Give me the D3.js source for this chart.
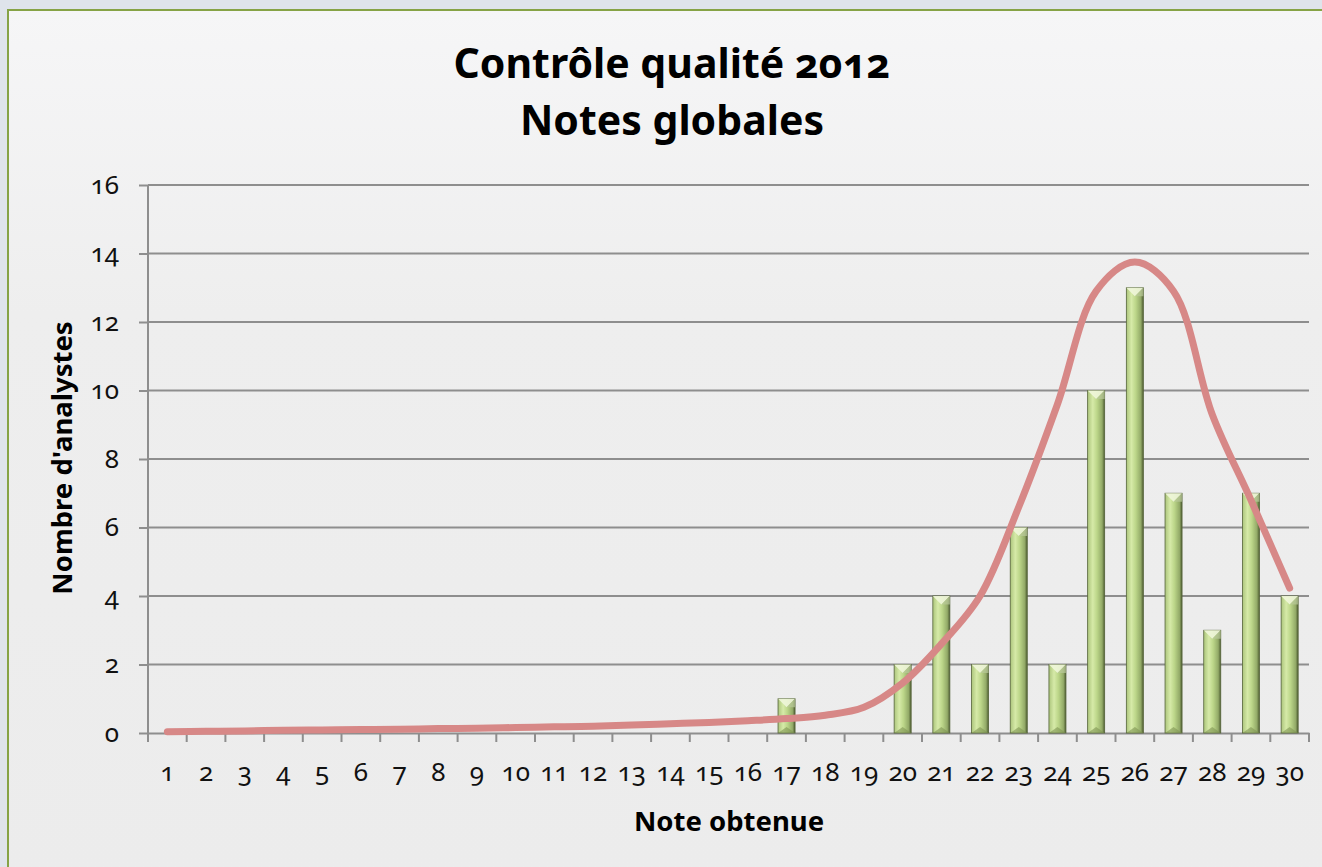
<!DOCTYPE html>
<html>
<head>
<meta charset="utf-8">
<script src="https://cdn.jsdelivr.net/npm/d3@7"></script>
<style>
  body { margin: 0; background: #dfe4eb; }
  svg { display: block; }
  .num { font-family: "Noto Sans", Lato, sans-serif; font-feature-settings: "onum" 1; font-variant-numeric: oldstyle-nums; }
</style>
</head>
<body>
<script>
// données du graphique
var notes = ["1","2","3","4","5","6","7","8","9","10","11","12","13","14","15",
             "16","17","18","19","20","21","22","23","24","25","26","27","28","29","30"];
var nbAnalystes = [0,0,0,0,0,0,0,0,0,0,0,0,0,0,0,0,1,0,0,2,4,2,6,2,10,13,7,3,7,4];
// courbe de tendance (lissée)
var tendance = [0.04,0.05,0.06,0.08,0.09,0.10,0.11,0.13,0.14,0.16,0.18,0.20,0.23,0.27,0.31,
                0.36,0.42,0.52,0.75,1.46,2.6,4.0,6.6,9.6,12.9,13.75,12.9,9.3,6.8,4.23];
var yTicks = [0,2,4,6,8,10,12,14,16];

var width = 1322, height = 867;
var margin = { left: 148, right: 13, top: 185, bottom: 134 };

var svg = d3.select("body").append("svg")
    .attr("width", width)
    .attr("height", height);

var defs = svg.append("defs");

// fond du graphique
var fond = defs.append("linearGradient").attr("id", "fond")
    .attr("x1", 0).attr("y1", 0).attr("x2", 0).attr("y2", 1);
fond.append("stop").attr("offset", "0%").attr("stop-color", "#f6f6f7");
fond.append("stop").attr("offset", "35%").attr("stop-color", "#eeeeee");
fond.append("stop").attr("offset", "100%").attr("stop-color", "#ececec");

// dégradé des barres
var barre = defs.append("linearGradient").attr("id", "barre")
    .attr("x1", 0).attr("y1", 0).attr("x2", 1).attr("y2", 0);
barre.append("stop").attr("offset", "0%").attr("stop-color", "#acc57c");
barre.append("stop").attr("offset", "30%").attr("stop-color", "#d6eaa8");
barre.append("stop").attr("offset", "55%").attr("stop-color", "#bcd689");
barre.append("stop").attr("offset", "85%").attr("stop-color", "#93aa68");
barre.append("stop").attr("offset", "100%").attr("stop-color", "#4d5c30");

svg.append("rect")
    .attr("x", 7).attr("y", 10)
    .attr("width", width).attr("height", height)
    .attr("fill", "url(#fond)");

// cadre vert
svg.append("line").attr("x1", 7).attr("y1", 10).attr("x2", width).attr("y2", 10)
    .attr("stroke", "#86a346").attr("stroke-width", 2);
svg.append("line").attr("x1", 8).attr("y1", 10).attr("x2", 8).attr("y2", height)
    .attr("stroke", "#86a346").attr("stroke-width", 2);

var x = d3.scaleBand()
    .domain(notes)
    .range([margin.left, width - margin.right]);

var y = d3.scaleLinear()
    .domain([0, 16])
    .range([height - margin.bottom, margin.top]);

// quadrillage
svg.append("g")
    .selectAll("line")
    .data(yTicks.filter(function(d) { return d > 0; }))
    .enter().append("line")
    .attr("x1", margin.left)
    .attr("x2", width - margin.right)
    .attr("y1", function(d) { return y(d); })
    .attr("y2", function(d) { return y(d); })
    .attr("stroke", "#8e8e8e")
    .attr("stroke-width", 2);

// axe Y
var axeY = svg.append("g")
    .attr("transform", "translate(" + margin.left + ",0)")
    .call(d3.axisLeft(y).tickValues(yTicks).tickSize(9).tickPadding(20));
axeY.select(".domain").attr("stroke", "#8e8e8e").attr("stroke-width", 2)
    .attr("d", "M0," + (y(0) + 9) + "V" + y(16));
axeY.selectAll(".tick line").attr("stroke", "#8e8e8e").attr("stroke-width", 2);
axeY.selectAll(".tick text").attr("class", "num").attr("font-size", 26).attr("fill", "#111");

// axe X (graduations entre les catégories)
var axeX = svg.append("g")
    .attr("transform", "translate(0," + y(0) + ")")
    .call(d3.axisBottom(x).tickSize(0).tickPadding(30));
axeX.select(".domain").attr("stroke", "#8e8e8e").attr("stroke-width", 2);
axeX.selectAll(".tick text").attr("class", "num").attr("font-size", 26).attr("fill", "#111");

var bornes = notes.map(function(d) { return x(d); }).concat([x(notes[notes.length - 1]) + x.bandwidth()]);
axeX.selectAll(".grad")
    .data(bornes)
    .enter().append("line")
    .attr("class", "grad")
    .attr("x1", function(d) { return d; })
    .attr("x2", function(d) { return d; })
    .attr("y1", 0).attr("y2", 9)
    .attr("stroke", "#8e8e8e").attr("stroke-width", 2);

// barres
var bw = x.bandwidth() * 0.44;
var donnees = notes.map(function(n, i) { return { note: n, val: nbAnalystes[i] }; })
    .filter(function(d) { return d.val > 0; });

var g = svg.append("g").selectAll("g")
    .data(donnees)
    .enter().append("g")
    .attr("transform", function(d) {
        return "translate(" + (x(d.note) + (x.bandwidth() - bw) / 2) + ",0)";
    });

g.append("rect")
    .attr("x", 0)
    .attr("y", function(d) { return y(d.val); })
    .attr("width", bw)
    .attr("height", function(d) { return y(0) - y(d.val); })
    .attr("fill", "url(#barre)")
    .attr("stroke", "#55643a")
    .attr("stroke-width", 0.8);

// biseau du haut
g.append("path")
    .attr("d", function(d) {
        var t = y(d.val);
        return "M0," + t + "L" + bw + "," + t + "L" + (bw * 0.5) + "," + (t + bw * 0.5) + "Z";
    })
    .attr("fill", "#f0f6da")
    .attr("opacity", 0.9);
g.append("path")
    .attr("d", function(d) {
        var t = y(d.val);
        return "M" + bw + "," + t + "L" + (bw * 0.5) + "," + (t + bw * 0.5) + "L" + bw + "," + (t + bw * 0.5) + "Z";
    })
    .attr("fill", "#b9c99a")
    .attr("opacity", 0.7);
// biseau du bas
g.append("path")
    .attr("d", function(d) {
        var b = y(0);
        return "M0," + b + "L" + bw + "," + b + "L" + (bw * 0.5) + "," + (b - bw * 0.35) + "Z";
    })
    .attr("fill", "#7e9453")
    .attr("opacity", 0.6);

// courbe de tendance
var ligne = d3.line()
    .x(function(d, i) { return x(notes[i]) + x.bandwidth() / 2; })
    .y(function(d) { return y(d); })
    .curve(d3.curveCatmullRom.alpha(0.5));

svg.append("path")
    .datum(tendance)
    .attr("d", ligne)
    .attr("fill", "none")
    .attr("stroke", "#d78887")
    .attr("stroke-width", 7)
    .attr("stroke-linecap", "round");

// titres
var titre = svg.append("text")
    .attr("x", 672).attr("y", 78)
    .attr("class", "num")
    .attr("text-anchor", "middle")
    .attr("font-weight", "bold")
    .attr("font-size", 41)
    .attr("fill", "#000");
titre.append("tspan").attr("x", 672).text("Contrôle qualité 2012");
titre.append("tspan").attr("x", 672).attr("dy", 57).text("Notes globales");

svg.append("text")
    .attr("transform", "translate(72,458) rotate(-90)")
    .attr("text-anchor", "middle")
    .attr("font-family", "'Noto Sans', Lato, sans-serif")
    .attr("font-weight", "bold")
    .attr("font-size", 27.5)
    .attr("fill", "#000")
    .text("Nombre d'analystes");

svg.append("text")
    .attr("x", 729).attr("y", 831)
    .attr("text-anchor", "middle")
    .attr("font-family", "'Noto Sans', Lato, sans-serif")
    .attr("font-weight", "bold")
    .attr("font-size", 27.5)
    .attr("fill", "#000")
    .text("Note obtenue");
</script>
</body>
</html>
